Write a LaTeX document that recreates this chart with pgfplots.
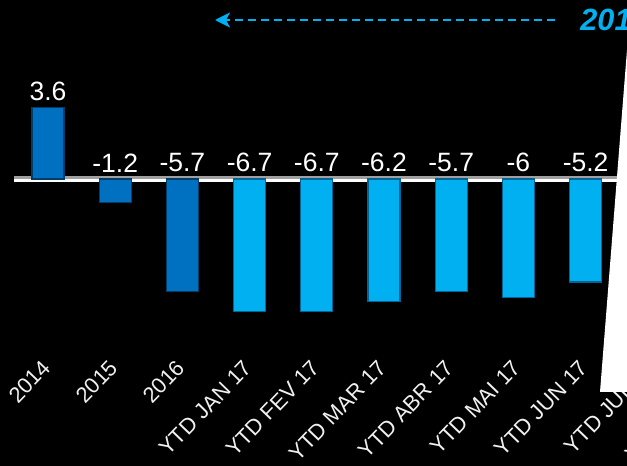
\documentclass[border=0pt]{standalone}
\usepackage{pgfplots}
\pgfplotsset{compat=1.18}
\usepackage{pgfplotstable}
\usepackage{fontspec}
\setmainfont{Liberation Sans}
\usetikzlibrary{arrows.meta}

\definecolor{darkbar}{RGB}{0,112,192}
\definecolor{lightbar}{RGB}{0,176,240}
\definecolor{darkedge}{RGB}{0,60,105}
\definecolor{lightedge}{RGB}{0,100,150}
\definecolor{zerogray}{RGB}{160,160,160}

% annual results
\pgfplotstableread{
x v
0 3.6
1 -1.2
2 -5.7
}\annual
% year-to-date 2017
\pgfplotstableread{
x v
3 -6.7
4 -6.7
5 -6.2
6 -5.7
7 -6
8 -5.2
}\ytd

\begin{document}
\begin{tikzpicture}[x=1bp,y=1bp]
\useasboundingbox (0,0) rectangle (313.5,233);
\begin{scope}
\clip (0,0) rectangle (313.5,233);
\fill[black] (0,0) rectangle (313.5,233);
\begin{axis}[
  at={(0,0)}, anchor=south west,
  scale only axis, width=370.08bp, height=233bp,
  xmin=-0.7143, xmax=10.3, ymin=-14.495, ymax=9.0404,
  axis line style={draw=none},
  tick style={draw=none},
  ytick=\empty,
  xtick={0.05,1.05,...,10.05},
  xticklabels={2014,2015,2016,YTD JAN 17,YTD FEV 17,YTD MAR 17,YTD ABR 17,YTD MAI 17,YTD JUN 17,YTD JUL 17,YTD AGO 17},
  xticklabel style={rotate=46, anchor=east, text=white!88!gray,
    font=\fontsize{11}{13}\selectfont},
  xticklabel shift=-53.5bp,
  clip=false,
  /pgf/number format/assume math mode=true,
]
% zero line: grey upper edge, white lower edge
\addplot[draw=white, line width=1.5bp, forget plot] coordinates {(-0.506,-0.0758) (10,-0.0758)};
\addplot[draw=zerogray, line width=1.5bp, forget plot] coordinates {(-0.506,0.0758) (10,0.0758)};

\addplot[ybar, bar shift=0pt, bar width=16bp, fill=darkbar, draw=darkedge, line width=0.6bp]
  table[x=x, y=v] {\annual};
\addplot[ybar, bar shift=0pt, bar width=16bp, fill=lightbar, draw=lightedge, line width=0.6bp]
  table[x=x, y=v] {\ytd};

% value labels: above the bar when positive, above the zero line otherwise
\pgfplotsset{valuelabels/.style={draw=none, mark=none,
  nodes near coords, point meta=explicit symbolic,
  every node near coord/.style={anchor=south, inner sep=0pt, yshift=3.2bp,
    text=white, font=\fontsize{13.3}{15}\selectfont}}}
\addplot[valuelabels] table[x=x, y expr={max(\thisrow{v},0)}, meta=v] {\annual};
\addplot[valuelabels] table[x=x, y expr={max(\thisrow{v},0)}, meta=v] {\ytd};
\end{axis}

% heading arrow
\draw[lightbar, line width=1bp, dash pattern=on 4bp off 2.5bp,
  -{Stealth[length=7.5bp, width=7.5bp, inset=2bp]}] (277.5,223) -- (107.5,223);
\node[anchor=base west, inner sep=0pt, text=lightbar,
  font=\fontsize{15.4}{18}\selectfont\bfseries\itshape] at (290,218) {2017};

% white panel on the right
\fill[white] (313.5,208) -- (300,37) -- (320,37) -- (320,208) -- cycle;
\end{scope}
\end{tikzpicture}
\end{document}
